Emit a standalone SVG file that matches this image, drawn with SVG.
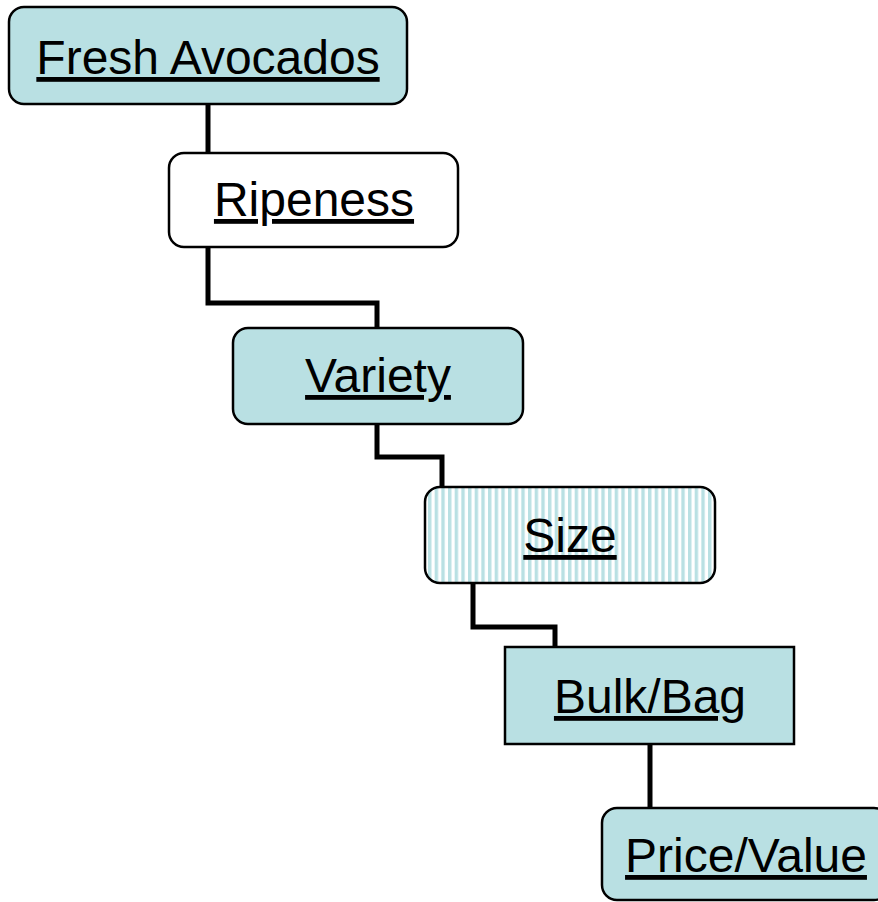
<svg xmlns="http://www.w3.org/2000/svg" width="878" height="902" viewBox="0 0 878 902">
<style>
.box{fill:#B9E0E3;stroke:#000;stroke-width:2.5}
.white{fill:#fff}
.stripe{fill:url(#stripes)}
.lbl{font-family:"Liberation Sans",Arial,sans-serif;font-size:48px;fill:#000;text-anchor:middle;text-decoration:underline}
.conn{fill:none;stroke:#000;stroke-width:5;stroke-linejoin:miter}
</style>
<defs>
<pattern id="stripes" patternUnits="userSpaceOnUse" x="428" y="0" width="6.667" height="10">
<rect width="6.667" height="10" fill="#fff"/>
<rect width="3.4" height="10" fill="#B9E0E3"/>
</pattern>
</defs>
<g id="connectors">
<path class="conn" d="M208 104V153"/>
<path class="conn" d="M208 247V303H377V328"/>
<path class="conn" d="M377 424V457H442V488"/>
<path class="conn" d="M473 583V627H555V647"/>
<path class="conn" d="M650 744V808"/>
</g>
<g id="fresh-avocados">
<rect class="box" x="9" y="7" width="398" height="97" rx="15"/>
<text class="lbl" x="208" y="74">Fresh Avocados</text>
</g>
<g id="ripeness">
<rect class="box white" x="169" y="153" width="289" height="94" rx="15"/>
<text class="lbl" x="314" y="216">Ripeness</text>
</g>
<g id="variety">
<rect class="box" x="233" y="328" width="290" height="96" rx="15"/>
<text class="lbl" x="378" y="392">Variety</text>
</g>
<g id="size">
<rect class="box stripe" x="425" y="487" width="290" height="96" rx="15"/>
<text class="lbl" x="570" y="552">Size</text>
</g>
<g id="bulk-bag">
<rect class="box" x="505" y="647" width="289" height="97"/>
<text class="lbl" x="650" y="713">Bulk/Bag</text>
</g>
<g id="price-value">
<rect class="box" x="602" y="808" width="287" height="92" rx="15"/>
<text class="lbl" x="746" y="872">Price/Value</text>
</g>
</svg>
